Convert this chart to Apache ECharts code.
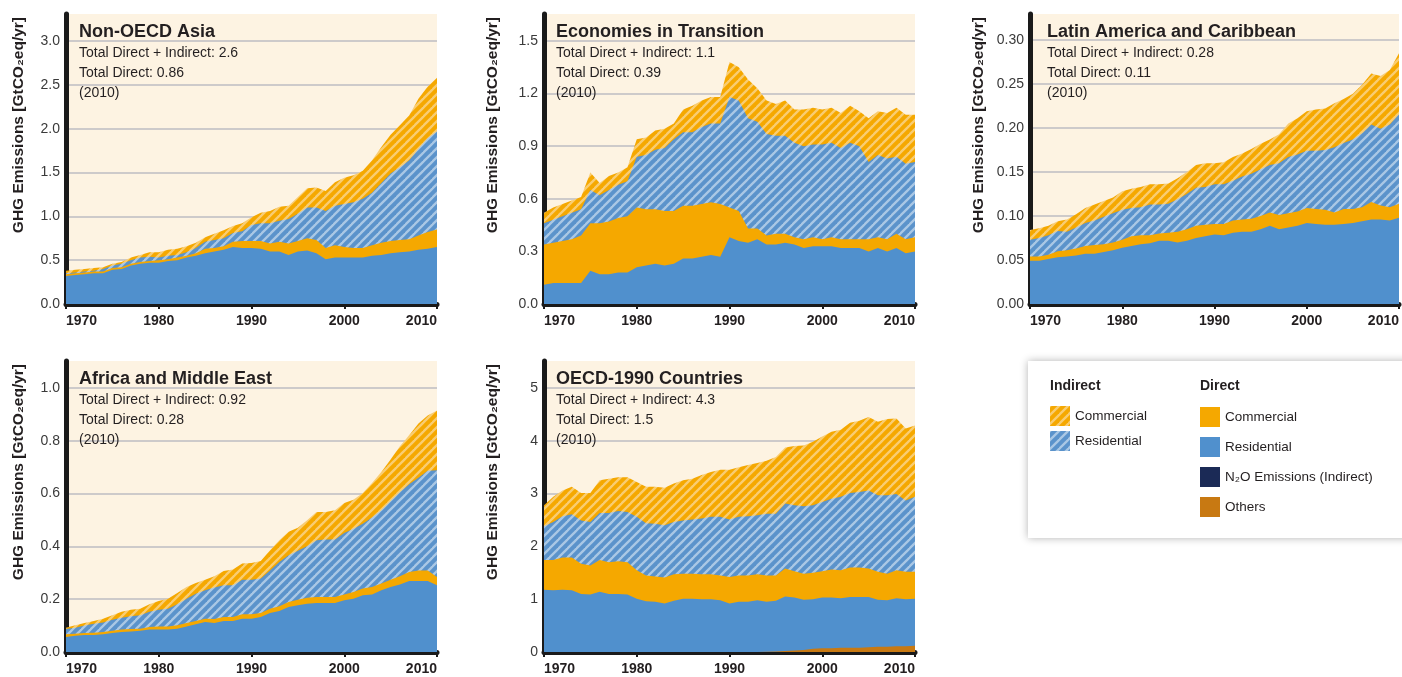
<!DOCTYPE html>
<html>
<head>
<meta charset="utf-8">
<script src="https://cdn.jsdelivr.net/npm/echarts@6/dist/echarts.min.js"></script>
<style>
  html, body { margin: 0; padding: 0; background: #fff; }
  #chart { width: 1402px; height: 677px; }
</style>
</head>
<body>
<div id="chart"></div>
<script>
const years = ['1970','1971','1972','1973','1974','1975','1976','1977','1978','1979',
  '1980','1981','1982','1983','1984','1985','1986','1987','1988','1989',
  '1990','1991','1992','1993','1994','1995','1996','1997','1998','1999',
  '2000','2001','2002','2003','2004','2005','2006','2007','2008','2009','2010'];

const titles = ['Non-OECD Asia', 'Economies in Transition', 'Latin America and Caribbean',
  'Africa and Middle East', 'OECD-1990 Countries'];
const totalAll = ['2.6', '1.1', '0.28', '0.92', '4.3'];
const totalDirect = ['0.86', '0.39', '0.11', '0.28', '1.5'];

// upper edge of each band (GtCO2eq/yr):
// total = top of indirect commercial, indRes = top of indirect residential,
// dirCom = top of direct commercial, dirRes = direct residential
const asiaTotal = [0.38,0.39,0.40,0.41,0.42,0.46,0.48,0.53,0.56,0.59, 0.59,0.62,0.63,0.66,0.70,0.76,0.80,0.84,0.89,0.92,
  0.99,1.04,1.06,1.11,1.12,1.22,1.32,1.33,1.29,1.39, 1.44,1.47,1.52,1.64,1.79,1.93,2.04,2.15,2.34,2.48, 2.58];
const asiaIndRes = [0.35,0.36,0.37,0.38,0.40,0.44,0.46,0.50,0.53,0.54, 0.53,0.55,0.56,0.59,0.64,0.71,0.73,0.75,0.81,0.83,
  0.90,0.92,0.92,0.95,0.97,1.03,1.10,1.10,1.06,1.12, 1.14,1.16,1.20,1.27,1.38,1.49,1.56,1.64,1.77,1.89, 1.97];
const asiaDirCom = [0.34,0.35,0.36,0.37,0.37,0.41,0.42,0.46,0.48,0.49, 0.50,0.51,0.53,0.55,0.58,0.63,0.64,0.66,0.71,0.72,
  0.72,0.72,0.69,0.71,0.69,0.72,0.75,0.73,0.64,0.67, 0.65,0.64,0.64,0.67,0.70,0.72,0.73,0.74,0.78,0.82, 0.85];
const asiaDirRes = [0.32,0.33,0.34,0.35,0.35,0.39,0.40,0.44,0.46,0.47, 0.47,0.49,0.50,0.53,0.55,0.58,0.60,0.62,0.65,0.64,
  0.64,0.63,0.60,0.60,0.56,0.60,0.61,0.58,0.51,0.53, 0.53,0.53,0.53,0.55,0.56,0.58,0.59,0.60,0.62,0.63, 0.65];

const eitTotal = [0.52,0.55,0.57,0.59,0.61,0.75,0.69,0.73,0.75,0.78, 0.94,0.95,0.99,1.00,1.03,1.11,1.13,1.16,1.18,1.18,
  1.38,1.35,1.28,1.23,1.16,1.14,1.16,1.11,1.11,1.12, 1.11,1.12,1.09,1.13,1.10,1.06,1.10,1.09,1.12,1.08, 1.08];
const eitIndRes = [0.46,0.48,0.50,0.52,0.54,0.65,0.62,0.65,0.68,0.70, 0.84,0.85,0.88,0.89,0.94,0.98,0.98,1.01,1.03,1.03,
  1.18,1.16,1.06,1.04,0.97,0.96,0.96,0.92,0.90,0.91, 0.91,0.92,0.89,0.92,0.90,0.81,0.85,0.83,0.84,0.80, 0.81];
const eitDirCom = [0.34,0.35,0.36,0.37,0.39,0.46,0.46,0.47,0.49,0.50, 0.55,0.54,0.54,0.53,0.53,0.56,0.56,0.57,0.58,0.57,
  0.55,0.53,0.43,0.43,0.39,0.40,0.40,0.38,0.37,0.38, 0.37,0.38,0.37,0.37,0.37,0.37,0.38,0.37,0.40,0.37, 0.38];
const eitDirRes = [0.11,0.12,0.12,0.12,0.12,0.19,0.17,0.17,0.18,0.18, 0.21,0.22,0.23,0.22,0.23,0.26,0.26,0.27,0.28,0.27,
  0.38,0.36,0.35,0.37,0.34,0.34,0.35,0.34,0.32,0.33, 0.33,0.33,0.32,0.32,0.32,0.30,0.32,0.30,0.32,0.29, 0.30];

const lacTotal = [0.084,0.086,0.089,0.094,0.096,0.102,0.109,0.113,0.117,0.121, 0.128,0.131,0.133,0.136,0.136,0.137,0.143,0.150,0.158,0.160,
  0.160,0.161,0.167,0.171,0.176,0.182,0.187,0.193,0.205,0.211, 0.219,0.221,0.222,0.228,0.233,0.239,0.249,0.262,0.259,0.266, 0.285];
const lacIndRes = [0.073,0.075,0.078,0.083,0.082,0.087,0.092,0.095,0.099,0.103, 0.107,0.109,0.110,0.113,0.113,0.114,0.119,0.125,0.132,0.133,
  0.136,0.136,0.140,0.145,0.148,0.153,0.158,0.160,0.167,0.170, 0.174,0.174,0.175,0.178,0.183,0.187,0.194,0.204,0.199,0.204, 0.216];
const lacDirCom = [0.054,0.054,0.056,0.060,0.061,0.063,0.066,0.067,0.068,0.070, 0.073,0.077,0.078,0.078,0.080,0.081,0.082,0.085,0.089,0.090,
  0.091,0.091,0.095,0.096,0.097,0.100,0.104,0.101,0.103,0.105, 0.109,0.108,0.107,0.104,0.108,0.108,0.110,0.116,0.112,0.110, 0.114];
const lacDirRes = [0.049,0.049,0.051,0.053,0.054,0.055,0.057,0.057,0.059,0.061, 0.064,0.066,0.068,0.069,0.072,0.072,0.070,0.072,0.075,0.077,
  0.079,0.078,0.081,0.082,0.082,0.085,0.089,0.085,0.087,0.089, 0.092,0.091,0.090,0.090,0.091,0.092,0.094,0.096,0.096,0.095, 0.098];

const afrTotal = [0.092,0.101,0.110,0.117,0.126,0.139,0.152,0.160,0.164,0.181, 0.193,0.202,0.223,0.246,0.261,0.274,0.287,0.307,0.312,0.335,
  0.337,0.345,0.385,0.423,0.455,0.471,0.499,0.530,0.530,0.537, 0.564,0.577,0.602,0.640,0.682,0.729,0.779,0.821,0.865,0.896, 0.915];
const afrIndRes = [0.087,0.092,0.100,0.107,0.112,0.122,0.130,0.135,0.139,0.152, 0.160,0.164,0.181,0.202,0.221,0.234,0.244,0.253,0.253,0.274,
  0.274,0.278,0.309,0.341,0.366,0.383,0.400,0.423,0.426,0.426, 0.451,0.467,0.486,0.509,0.537,0.572,0.606,0.635,0.660,0.686, 0.688];
const afrDirCom = [0.067,0.069,0.072,0.073,0.076,0.080,0.085,0.087,0.088,0.095, 0.097,0.097,0.101,0.110,0.117,0.126,0.125,0.133,0.133,0.143,
  0.143,0.148,0.164,0.173,0.189,0.198,0.205,0.208,0.208,0.208, 0.218,0.227,0.240,0.246,0.259,0.274,0.287,0.303,0.309,0.309, 0.284];
const afrDirRes = [0.057,0.062,0.064,0.064,0.067,0.072,0.076,0.078,0.080,0.085, 0.085,0.085,0.088,0.097,0.105,0.114,0.110,0.117,0.117,0.126,
  0.126,0.133,0.148,0.155,0.170,0.177,0.183,0.186,0.186,0.186, 0.196,0.202,0.215,0.218,0.234,0.246,0.256,0.269,0.269,0.269, 0.253];

const oecdTotal = [2.78,2.94,3.06,3.13,3.01,3.01,3.25,3.28,3.31,3.31, 3.22,3.13,3.13,3.11,3.19,3.25,3.28,3.35,3.41,3.45,
  3.45,3.50,3.54,3.58,3.62,3.69,3.87,3.90,3.91,3.98, 4.08,4.17,4.21,4.34,4.38,4.45,4.36,4.41,4.42,4.23, 4.29];
const oecdIndRes = [2.38,2.46,2.57,2.61,2.49,2.46,2.63,2.63,2.67,2.65, 2.56,2.44,2.43,2.40,2.46,2.49,2.51,2.53,2.56,2.56,
  2.51,2.56,2.57,2.59,2.62,2.62,2.81,2.78,2.76,2.78, 2.84,2.90,2.94,3.01,3.03,3.06,2.97,2.97,2.99,2.87, 2.94];
const oecdDirCom = [1.74,1.74,1.79,1.79,1.67,1.64,1.74,1.70,1.72,1.70, 1.55,1.45,1.43,1.41,1.47,1.48,1.48,1.47,1.47,1.45,
  1.42,1.45,1.45,1.47,1.45,1.45,1.58,1.53,1.48,1.50, 1.53,1.56,1.55,1.60,1.60,1.58,1.52,1.48,1.55,1.52, 1.52];
const oecdDirRes = [1.18,1.17,1.18,1.17,1.10,1.09,1.14,1.10,1.10,1.09, 1.01,0.96,0.95,0.92,0.97,1.01,1.01,1.00,1.00,0.98,
  0.92,0.95,0.95,0.98,0.95,0.97,1.05,1.03,0.99,1.00, 1.03,1.03,1.02,1.04,1.04,1.04,0.99,0.98,1.02,1.00, 1.01];
const oecdOthers = [0,0,0,0,0,0,0,0,0,0, 0,0,0,0,0,0,0,0,0,0,
  0,0,0,0,0.005,0.01,0.02,0.03,0.04,0.06, 0.07,0.07,0.08,0.08,0.08,0.09,0.10,0.10,0.11,0.11, 0.12];

const bands = [
  [asiaTotal, asiaIndRes, asiaDirCom, asiaDirRes],
  [eitTotal, eitIndRes, eitDirCom, eitDirRes],
  [lacTotal, lacIndRes, lacDirCom, lacDirRes],
  [afrTotal, afrIndRes, afrDirCom, afrDirRes],
  [oecdTotal, oecdIndRes, oecdDirCom, oecdDirRes]
];

const FONT = '"Liberation Sans", Arial, sans-serif';
const INK = '#231f20';
const CREAM = '#fdf3e2';
const BLUE = '#5090cd';
const ORANGE = '#f5a800';

// panel placement
const layouts = [
  { left: 66,   top: 14,  height: 290, max: 3.308, interval: 0.5,  digits: 1, nameX: 19,  tx: 79 },
  { left: 544,  top: 14,  height: 290, max: 1.654, interval: 0.3,  digits: 1, nameX: 493, tx: 556 },
  { left: 1030, top: 14,  height: 290, max: 0.3295, interval: 0.05, digits: 2, nameX: 979, tx: 1047 },
  { left: 66,   top: 361, height: 291, max: 1.102, interval: 0.2,  digits: 1, nameX: 19,  tx: 79 },
  { left: 544,  top: 361, height: 291, max: 5.51,  interval: 1,    digits: 0, nameX: 493, tx: 556 }
];

function stripes(base, light) {
  const n = 9;
  const c = document.createElement('canvas');
  c.width = n; c.height = n;
  const g = c.getContext('2d');
  g.fillStyle = base;
  g.fillRect(0, 0, n, n);
  g.strokeStyle = light;
  g.lineWidth = 2.3;
  for (let k = 0; k <= 2; k++) {
    g.beginPath();
    g.moveTo(k * n + 2, -2);
    g.lineTo(k * n - n - 2, n + 2);
    g.stroke();
  }
  return { image: c, repeat: 'repeat' };
}

const orangeStripes = stripes('#f5a800', '#f9cd72');
const blueStripes = stripes('#5b93cb', '#aac8e5');

const fills = [orangeStripes, blueStripes, ORANGE, BLUE];
const names = ['Indirect Commercial', 'Indirect Residential', 'Commercial', 'Residential'];

function area(name, data, idx, fill) {
  return {
    name, type: 'line', xAxisIndex: idx, yAxisIndex: idx, data,
    symbol: 'none', showSymbol: false, silent: true,
    lineStyle: { width: 0, color: fill },
    itemStyle: { color: fill },
    areaStyle: { color: fill, opacity: 1, origin: 'start' }
  };
}

const grids = [], xAxes = [], yAxes = [], series = [], graphics = [];

layouts.forEach((L, i) => {
  grids.push({
    left: L.left, top: L.top, width: 371, height: L.height,
    show: true, backgroundColor: CREAM, borderWidth: 0
  });
  xAxes.push({
    type: 'category', gridIndex: i, data: years, boundaryGap: false,
    axisLine: { lineStyle: { color: '#1a1a1a', width: 5 } },
    axisTick: { show: true, interval: 9, length: 5, lineStyle: { color: '#1a1a1a', width: 2 } },
    axisLabel: {
      interval: 9, margin: 10, fontFamily: FONT, fontSize: 14, fontWeight: 'bold', color: INK,
      alignMinLabel: 'left', alignMaxLabel: 'right'
    },
    splitLine: { show: false }
  });
  yAxes.push({
    type: 'value', gridIndex: i, min: 0, max: L.max, interval: L.interval,
    axisLine: { show: true, lineStyle: { color: '#1a1a1a', width: 5 } },
    axisTick: { show: false },
    axisLabel: {
      margin: 6, fontFamily: FONT, fontSize: 14, color: '#3a3a3a', showMaxLabel: false,
      formatter: v => v.toFixed(L.digits)
    },
    splitLine: { show: true, showMinLine: false, showMaxLine: false, lineStyle: { color: '#bdbcc2', width: 1.5 } }
  });
  bands[i].forEach((d, j) => series.push(area(names[j], d, i, fills[j])));

  graphics.push({
    type: 'text', x: L.nameX, y: L.top + 3, rotation: Math.PI / 2,
    style: {
      text: 'GHG Emissions [GtCO\u2082eq/yr]', font: 'bold 15.5px ' + FONT, fill: INK,
      align: 'right', verticalAlign: 'middle'
    }
  });
  graphics.push({
    type: 'text', x: L.tx, y: L.top + 18, z: 10,
    style: { text: titles[i], font: 'bold 18px ' + FONT, fill: INK, verticalAlign: 'middle' }
  });
  const lines = ['Total Direct + Indirect: ' + totalAll[i], 'Total Direct: ' + totalDirect[i], '(2010)'];
  lines.forEach((t, k) => graphics.push({
    type: 'text', x: L.tx, y: L.top + 39 + k * 20, z: 10,
    style: { text: t, font: '14px ' + FONT, fill: INK, verticalAlign: 'middle' }
  }));
});

series.push(area('Others', oecdOthers, 4, '#c87912'));
series.push(area('N\u2082O Emissions (Indirect)', [], 4, '#1b2a56'));

// legend box and headers
graphics.push({
  type: 'rect', shape: { x: 1028, y: 361, width: 400, height: 177 },
  style: { fill: '#ffffff', shadowBlur: 8, shadowColor: 'rgba(0,0,0,0.3)' }
});
graphics.push({
  type: 'text', x: 1050, y: 386,
  style: { text: 'Indirect', font: 'bold 14px ' + FONT, fill: INK, verticalAlign: 'middle' }
});
graphics.push({
  type: 'text', x: 1200, y: 386,
  style: { text: 'Direct', font: 'bold 14px ' + FONT, fill: INK, verticalAlign: 'middle' }
});

const legendText = { fontFamily: FONT, fontSize: 13.5, color: INK };

const chart = echarts.init(document.getElementById('chart'));
chart.setOption({
  animation: false,
  backgroundColor: '#ffffff',
  grid: grids,
  xAxis: xAxes,
  yAxis: yAxes,
  series,
  graphic: graphics,
  legend: [
    {
      data: ['Indirect Commercial', 'Indirect Residential'],
      orient: 'vertical', left: 1050, top: 406, padding: 0,
      icon: 'rect', itemWidth: 20, itemHeight: 20, itemGap: 5,
      itemStyle: { borderWidth: 0 }, selectedMode: false,
      textStyle: legendText,
      formatter: n => n.replace('Indirect ', '')
    },
    {
      data: ['Commercial', 'Residential', 'N\u2082O Emissions (Indirect)', 'Others'],
      orient: 'vertical', left: 1200, top: 407, padding: 0,
      icon: 'rect', itemWidth: 20, itemHeight: 20, itemGap: 10,
      itemStyle: { borderWidth: 0 }, selectedMode: false,
      textStyle: legendText
    }
  ]
});
</script>
</body>
</html>
